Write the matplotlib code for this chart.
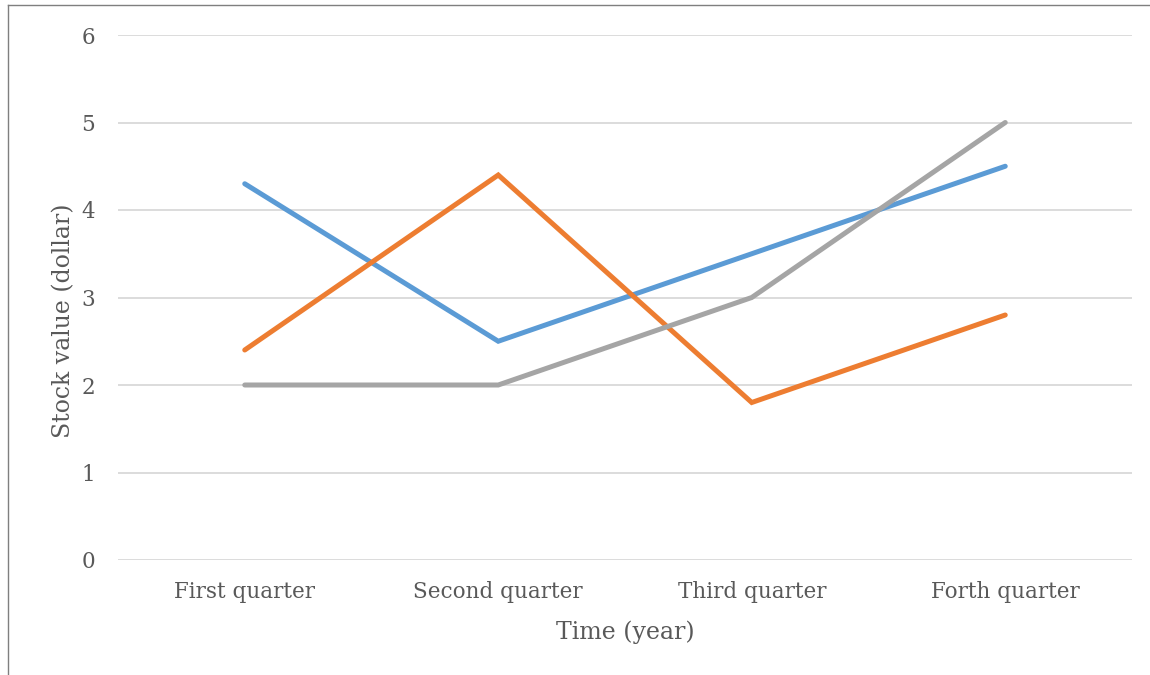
import matplotlib.pyplot as plt
from matplotlib.lines import Line2D

# quarterly stock values for the three series
quarters = ["First quarter", "Second quarter", "Third quarter", "Forth quarter"]
series_blue = [4.3, 2.5, 3.5, 4.5]
series_orange = [2.4, 4.4, 1.8, 2.8]
series_gray = [2.0, 2.0, 3.0, 5.0]
y_ticks = [0, 1, 2, 3, 4, 5, 6]

W, H = 1150, 675
text_col = "#595959"
plt.rcParams['font.family'] = ['DejaVu Serif']

fig = plt.figure(figsize=(W / 100, H / 100), dpi=100)
ax = fig.add_axes([118 / W, 1 - 560 / H, (1132 - 118) / W, (560 - 35) / H])

x = list(range(len(quarters)))
for vals, col in [(series_blue, "#5b9bd5"), (series_orange, "#ed7d31"), (series_gray, "#a5a5a5")]:
    ax.plot(x, vals, color=col, lw=3.6, solid_capstyle='round',
            solid_joinstyle='miter', zorder=3)

ax.set_xlim(-0.5, len(quarters) - 0.5)
ax.set_ylim(0, 6)
ax.set_yticks(y_ticks)
ax.set_xticks(x)
ax.set_xticklabels(quarters)
ax.grid(axis='y', color="#d9d9d9", lw=1.3)
ax.set_axisbelow(True)
for s in ax.spines.values():
    s.set_visible(False)
ax.tick_params(length=0, colors=text_col, labelsize=15.5)
ax.tick_params(axis='y', pad=16.5)
ax.tick_params(axis='x', pad=15)

ax.set_xlabel("Time (year)", color=text_col, fontsize=17, labelpad=13)
ax.set_ylabel("Stock value (dollar)", color=text_col, fontsize=17)
ax.yaxis.set_label_coords(-0.0424, 0.455)

# outer frame lines (top and left)
fig.add_artist(Line2D([8 / W, 1149 / W], [1 - 5 / H, 1 - 5 / H], color="#7f7f7f", lw=1))
fig.add_artist(Line2D([8 / W, 8 / W], [1 - 5 / H, 0], color="#7f7f7f", lw=1))

fig.savefig("out.png", dpi=100)
